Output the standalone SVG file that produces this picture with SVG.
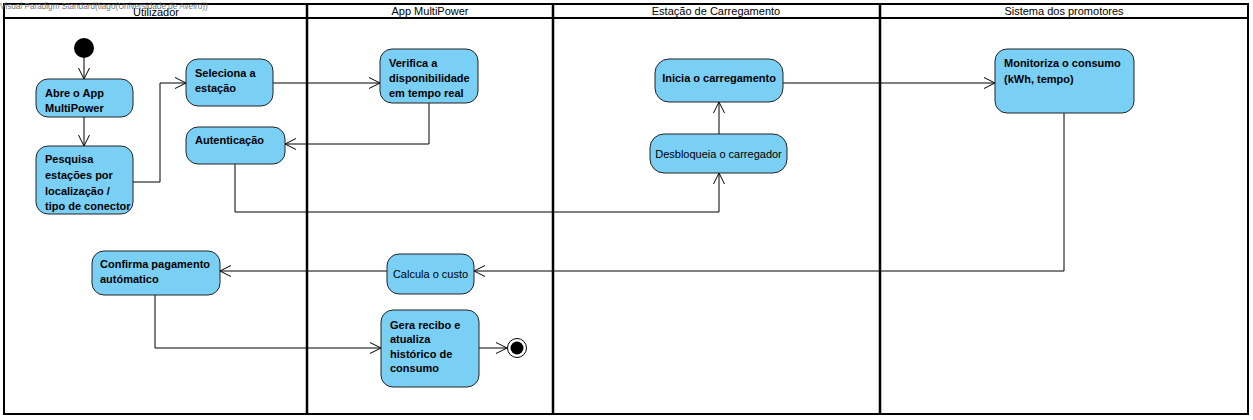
<svg xmlns="http://www.w3.org/2000/svg" width="1253" height="420" viewBox="0 0 1253 420">
<defs>
<marker id="arr" markerWidth="12" markerHeight="12" refX="11" refY="6" orient="auto" markerUnits="userSpaceOnUse">
<path d="M0,0.5 L11,6 L0,11.5" fill="none" stroke="#000" stroke-width="1"/>
</marker>
</defs>
<style>
.lane{fill:none;stroke:#000;stroke-width:2}
.div{stroke:#000;stroke-width:2.5}
.hdr{font-family:"Liberation Sans",Arial,sans-serif;font-size:11px;fill:#000;text-anchor:middle}
.wm{font-family:"Liberation Sans",Arial,sans-serif;font-size:8.2px;fill:#777}
.act{fill:#7ACFF5;stroke:#222;stroke-width:1}
.t{font-family:"Liberation Sans",Arial,sans-serif;font-size:11px;font-weight:bold;fill:#000}
.tr{font-family:"Liberation Sans",Arial,sans-serif;font-size:11px;fill:#000;text-anchor:middle}
.c{fill:none;stroke:#000;stroke-width:1;marker-end:url(#arr)}
</style>
<rect width="1253" height="420" fill="#fff"/>
<g id="frame">
<rect class="lane" x="4" y="4" width="1244" height="410"/>
<line class="lane" x1="4" y1="18" x2="1248" y2="18"/>
<line class="div" x1="307" y1="4" x2="307" y2="414"/>
<line class="div" x1="553" y1="4" x2="553" y2="414"/>
<line class="div" x1="880" y1="4" x2="880" y2="414"/>
<text class="hdr" x="156" y="16">Utilizador</text>
<text class="hdr" x="430" y="15">App MultiPower</text>
<text class="hdr" x="716" y="15">Estação de Carregamento</text>
<text class="hdr" x="1064" y="15">Sistema dos promotores</text>
<text class="wm" x="0" y="9">Visual Paradigm Standard(tiago(Universidade de Aveiro))</text>
</g>
<g id="connectors">
<path class="c" d="M84,58 L84,79"/>
<path class="c" d="M84,117 L84,146"/>
<path class="c" d="M133,182 L160,182 L160,83 L186,83"/>
<path class="c" d="M273,83 L380,83"/>
<path class="c" d="M429,103 L429,144 L285,144"/>
<path class="c" d="M235,164 L235,212 L719,212 L719,173"/>
<path class="c" d="M719,134 L719,102"/>
<path class="c" d="M783,83 L995,83"/>
<path class="c" d="M1064,113 L1064,271 L474,271"/>
<path class="c" d="M387,271 L220,271"/>
<path class="c" d="M155,295 L155,348 L381,348"/>
<path class="c" d="M479,348 L507,348"/>
</g>
<g id="start"><circle cx="84" cy="48" r="10" fill="#000"/></g>
<g id="abre">
<rect class="act" x="36" y="79" width="97" height="38" rx="12"/>
<text class="t" x="45" y="97">Abre o App</text>
<text class="t" x="45" y="112">MultiPower</text>
</g>
<g id="pesquisa">
<rect class="act" x="36" y="146" width="97" height="68" rx="12"/>
<text class="t" x="45" y="163">Pesquisa</text>
<text class="t" x="45" y="179">estações por</text>
<text class="t" x="45" y="195">localização /</text>
<text class="t" x="45" y="210">tipo de conector</text>
</g>
<g id="seleciona">
<rect class="act" x="186" y="59" width="87" height="47" rx="12"/>
<text class="t" x="195" y="77">Seleciona a</text>
<text class="t" x="195" y="92">estação</text>
</g>
<g id="autenticacao">
<rect class="act" x="186" y="127" width="99" height="37" rx="12"/>
<text class="t" x="195" y="144">Autenticação</text>
</g>
<g id="verifica">
<rect class="act" x="380" y="49" width="98" height="54" rx="12"/>
<text class="t" x="389" y="67">Verifica a</text>
<text class="t" x="389" y="82">disponibilidade</text>
<text class="t" x="389" y="97">em tempo real</text>
</g>
<g id="inicia">
<rect class="act" x="655" y="59" width="128" height="43" rx="14"/>
<text class="t" x="719" y="82" text-anchor="middle">Inicia o carregamento</text>
</g>
<g id="desbloqueia">
<rect class="act" x="650" y="134" width="137" height="39" rx="14"/>
<text class="tr" x="718.5" y="158">Desbloqueia o carregador</text>
</g>
<g id="monitoriza">
<rect class="act" x="995" y="49" width="139" height="64" rx="12"/>
<text class="t" x="1004" y="67">Monitoriza o consumo</text>
<text class="t" x="1004" y="83">(kWh, tempo)</text>
</g>
<g id="confirma">
<rect class="act" x="92" y="251" width="128" height="44" rx="12"/>
<text class="t" x="100" y="268">Confirma pagamento</text>
<text class="t" x="100" y="283">autómatico</text>
</g>
<g id="calcula">
<rect class="act" x="387" y="254" width="87" height="40" rx="12"/>
<text class="tr" x="430.5" y="278">Calcula o custo</text>
</g>
<g id="gera">
<rect class="act" x="381" y="310" width="98" height="77" rx="12"/>
<text class="t" x="390" y="329">Gera recibo e</text>
<text class="t" x="390" y="343">atualiza</text>
<text class="t" x="390" y="358">histórico de</text>
<text class="t" x="390" y="372">consumo</text>
</g>
<g id="final">
<circle cx="517" cy="348" r="9.5" fill="#fff" stroke="#000" stroke-width="1"/>
<circle cx="517" cy="348" r="6.5" fill="#000"/>
</g>
</svg>
